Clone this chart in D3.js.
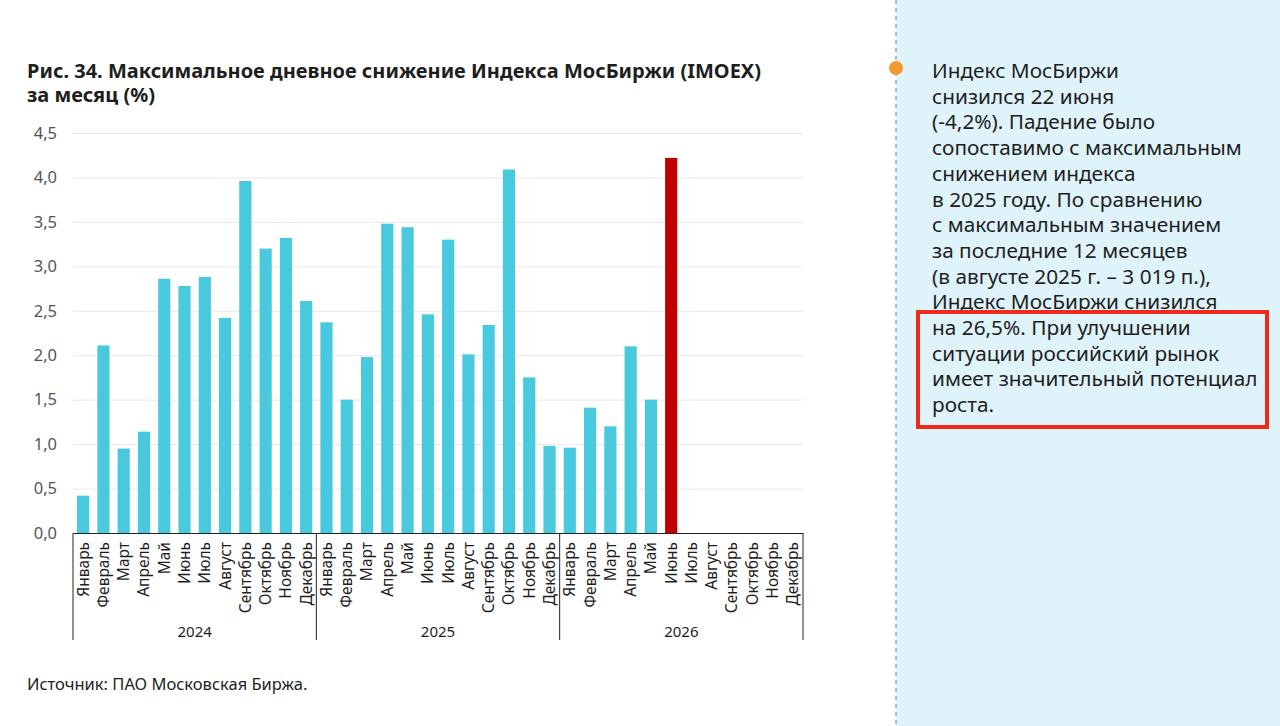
<!DOCTYPE html>
<html>
<head>
<meta charset="utf-8">
<script src="https://cdn.jsdelivr.net/npm/d3@7"></script>
<style>
  body { margin: 0; background: #fff; }
  svg { display: block; font-family: "Noto Sans", sans-serif; }
</style>
</head>
<body>
<svg id="chart" width="1280" height="726"></svg>
<script>
var months = ['Январь', 'Февраль', 'Март', 'Апрель', 'Май', 'Июнь', 'Июль', 'Август', 'Сентябрь', 'Октябрь', 'Ноябрь', 'Декабрь']
var years = ['2024', '2025', '2026']

// максимальное дневное снижение, %
var values2024 = [0.42, 2.11, 0.95, 1.14, 2.86, 2.78, 2.88, 2.42, 3.96, 3.20, 3.32, 2.61]
var values2025 = [2.37, 1.50, 1.98, 3.48, 3.44, 2.46, 3.30, 2.01, 2.34, 4.09, 1.75, 0.98]
var values2026 = [0.96, 1.41, 1.20, 2.10, 1.50, 4.22, null, null, null, null, null, null]
var highlight = {year: '2026', month: 'Июнь'}

var yTicks = [0, 0.5, 1, 1.5, 2, 2.5, 3, 3.5, 4, 4.5]

var titleLines = ['Рис. 34. Максимальное дневное снижение Индекса МосБиржи (IMOEX)', 'за месяц (%)']

var noteLines = [
  'Индекс МосБиржи',
  'снизился 22 июня',
  '(-4,2%). Падение было',
  'сопоставимо с максимальным',
  'снижением индекса',
  'в 2025 году. По сравнению',
  'с максимальным значением',
  'за последние 12 месяцев',
  '(в августе 2025 г. – 3 019 п.),',
  'Индекс МосБиржи снизился',
  'на 26,5%. При улучшении',
  'ситуации российский рынок',
  'имеет значительный потенциал',
  'роста.'
]

var series = [values2024, values2025, values2026]
var data = []
years.forEach((y, i) => months.forEach((m, j) => {
  data.push({year: y, month: m, key: y + '-' + m, value: series[i][j]})
}))

var svg = d3.select('#chart')
var fmt = d => d3.format('.1f')(d).replace('.', ',')

// правая панель
svg.append('rect').attr('x', 896).attr('y', 0).attr('width', 384).attr('height', 726).attr('fill', '#dff3fa')
svg.append('line').attr('x1', 896).attr('x2', 896).attr('y1', 0).attr('y2', 726)
  .attr('stroke', '#9aa9ad').attr('stroke-width', 1.5).attr('stroke-dasharray', '4,4')
svg.append('circle').attr('cx', 896).attr('cy', 68).attr('r', 7).attr('fill', '#f39a2e')

svg.append('text')
  .attr('x', 932).attr('y', 78)
  .attr('font-size', 20.8).attr('fill', '#1e1e1e')
  .selectAll('tspan').data(noteLines).join('tspan')
  .attr('x', 932).attr('dy', (d, i) => i ? 25.7 : 0)
  .text(d => d)

svg.append('rect').attr('x', 918).attr('y', 312).attr('width', 349).attr('height', 115)
  .attr('fill', 'none').attr('stroke', '#ee2a1a').attr('stroke-width', 4)

// заголовок
svg.append('text').attr('x', 27).attr('y', 78)
  .attr('font-size', 20).attr('font-weight', 700).attr('fill', '#1e1e1e')
  .selectAll('tspan').data(titleLines).join('tspan')
  .attr('x', 27).attr('dy', (d, i) => i ? 24 : 0).text(d => d)

svg.append('text').attr('x', 27).attr('y', 690)
  .attr('font-size', 16.5).attr('fill', '#1e1e1e')
  .text('Источник: ПАО Московская Биржа.')

// график
var plotLeft = 73, plotRight = 803, plotTop = 133, plotBottom = 533

var x = d3.scaleBand().domain(data.map(d => d.key)).range([plotLeft, plotRight]).paddingInner(0.4).paddingOuter(0.2)
var y = d3.scaleLinear().domain([0, 4.5]).range([plotBottom, plotTop])

var g = svg.append('g')

g.append('g').attr('transform', `translate(${plotLeft},0)`)
  .call(d3.axisLeft(y).tickValues(yTicks).tickSize(-(plotRight - plotLeft)).tickFormat(fmt))
  .call(s => s.select('.domain').remove())
  .call(s => s.selectAll('.tick line').attr('stroke', '#e8e8e8'))
  .call(s => s.selectAll('.tick text').attr('x', -16).attr('fill', '#555').attr('font-size', 16.5).attr('font-family', '"Noto Sans", sans-serif'))

g.selectAll('rect.bar').data(data.filter(d => d.value != null)).join('rect')
  .attr('class', 'bar')
  .attr('x', d => x(d.key))
  .attr('width', x.bandwidth())
  .attr('y', d => y(d.value))
  .attr('height', d => y(0) - y(d.value))
  .attr('fill', d => d.year == highlight.year && d.month == highlight.month ? '#c00000' : '#48c9de')

// подписи месяцев
g.append('g').attr('transform', `translate(0,${plotBottom})`)
  .call(d3.axisBottom(x).tickSize(0).tickFormat(k => k.split('-')[1]))
  .call(s => s.select('.domain').attr('stroke', '#222'))
  .call(s => s.selectAll('.tick text')
    .attr('transform', 'rotate(-90)')
    .attr('x', -9).attr('y', 0).attr('dy', '0.35em')
    .attr('text-anchor', 'end')
    .attr('fill', '#1e1e1e').attr('font-size', 15.5).attr('font-family', '"Noto Sans", sans-serif'))

// группы по годам
var yearX = d3.scaleBand().domain(years).range([plotLeft, plotRight])
g.selectAll('line.sep').data(d3.range(years.length + 1)).join('line')
  .attr('class', 'sep')
  .attr('x1', i => plotLeft + i * yearX.bandwidth()).attr('x2', i => plotLeft + i * yearX.bandwidth())
  .attr('y1', plotBottom).attr('y2', 640)
  .attr('stroke', '#222')
g.selectAll('text.year').data(years).join('text')
  .attr('class', 'year')
  .attr('x', d => yearX(d) + yearX.bandwidth() / 2).attr('y', 637)
  .attr('text-anchor', 'middle').attr('font-size', 15).attr('fill', '#1e1e1e')
  .text(d => d)
</script>
</body>
</html>
